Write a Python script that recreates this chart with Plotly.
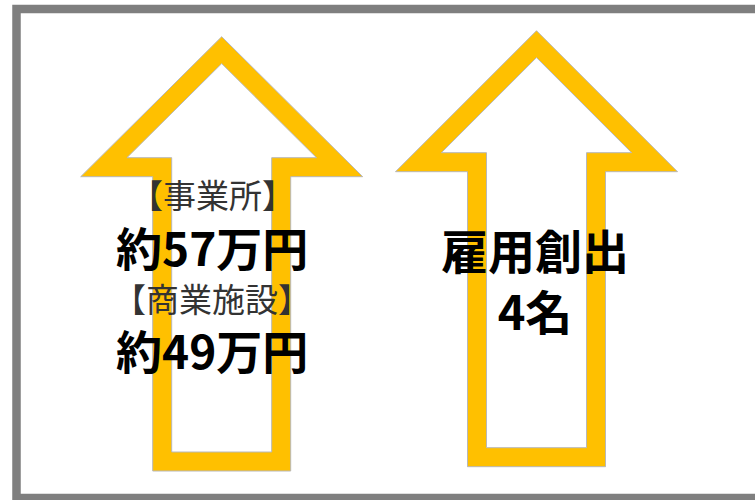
import plotly.graph_objects as go

# text content of the two arrows
left_labels = ["【事業所】", "約57万円", "【商業施設】", "約49万円"]
left_bold = [False, True, False, True]
left_y = [194, 246, 298, 349]

right_labels = ["雇用創出", "4名"]

YELLOW = "#FFC000"
EDGE = "#b8b8b8"
FONT = "Noto Sans CJK JP"


def arrow(cx, tip, base, bottom, head_hw, shaft_hw):
    xs = [cx, cx + head_hw, cx + shaft_hw, cx + shaft_hw,
          cx - shaft_hw, cx - shaft_hw, cx - head_hw, cx]
    ys = [tip, base, base, bottom, bottom, base, base, tip]
    return xs, ys


def hollow_arrow(fig, cx, tip, base, bottom, head_hw=141, shaft_hw=69, t=19):
    xo, yo = arrow(cx, tip, base, bottom, head_hw, shaft_hw)
    fig.add_trace(go.Scatter(x=xo, y=yo, fill="toself", fillcolor=YELLOW,
                             mode="lines", line=dict(color=EDGE, width=1),
                             hoverinfo="skip", showlegend=False))
    slope = (base - tip) / head_hw
    itip = tip + t * 1.414
    ibase = base - t
    ihw = (ibase - itip) / slope
    xi, yi = arrow(cx, itip, ibase, bottom - t, ihw, shaft_hw - t)
    fig.add_trace(go.Scatter(x=xi, y=yi, fill="toself", fillcolor="white",
                             mode="lines", line=dict(color=EDGE, width=1),
                             hoverinfo="skip", showlegend=False))


fig = go.Figure()
hollow_arrow(fig, 221.7, 36.7, 176.7, 471)
hollow_arrow(fig, 536.5, 30.7, 171.7, 466.7)

for txt, b, y in zip(left_labels, left_bold, left_y):
    fig.add_annotation(
        x=212, y=y, text=f"<b>{txt}</b>" if b else txt, showarrow=False,
        xanchor="center", yanchor="middle",
        font=dict(family=FONT, size=46 if b else 33,
                  color="black" if b else "#333333"))

fig.add_annotation(
    x=535, y=279, text="<b>" + "<br>".join(right_labels) + "</b>",
    showarrow=False, xanchor="center", yanchor="middle", align="center",
    font=dict(family=FONT, size=47, color="black"))

# grey frame
fig.add_shape(type="rect", x0=16.5, x1=765, y0=9, y1=498,
              line=dict(color="#7f7f7f", width=8.5), layer="above")

fig.update_xaxes(range=[0, 755], visible=False, fixedrange=True)
fig.update_yaxes(range=[500, 0], visible=False, fixedrange=True)
fig.update_layout(
    width=755, height=500,
    margin=dict(l=0, r=0, t=0, b=0),
    plot_bgcolor="white", paper_bgcolor="white",
    showlegend=False,
)
fig.write_html("out.html", config={"displayModeBar": False},
               post_script="document.body.style.margin='0';")
